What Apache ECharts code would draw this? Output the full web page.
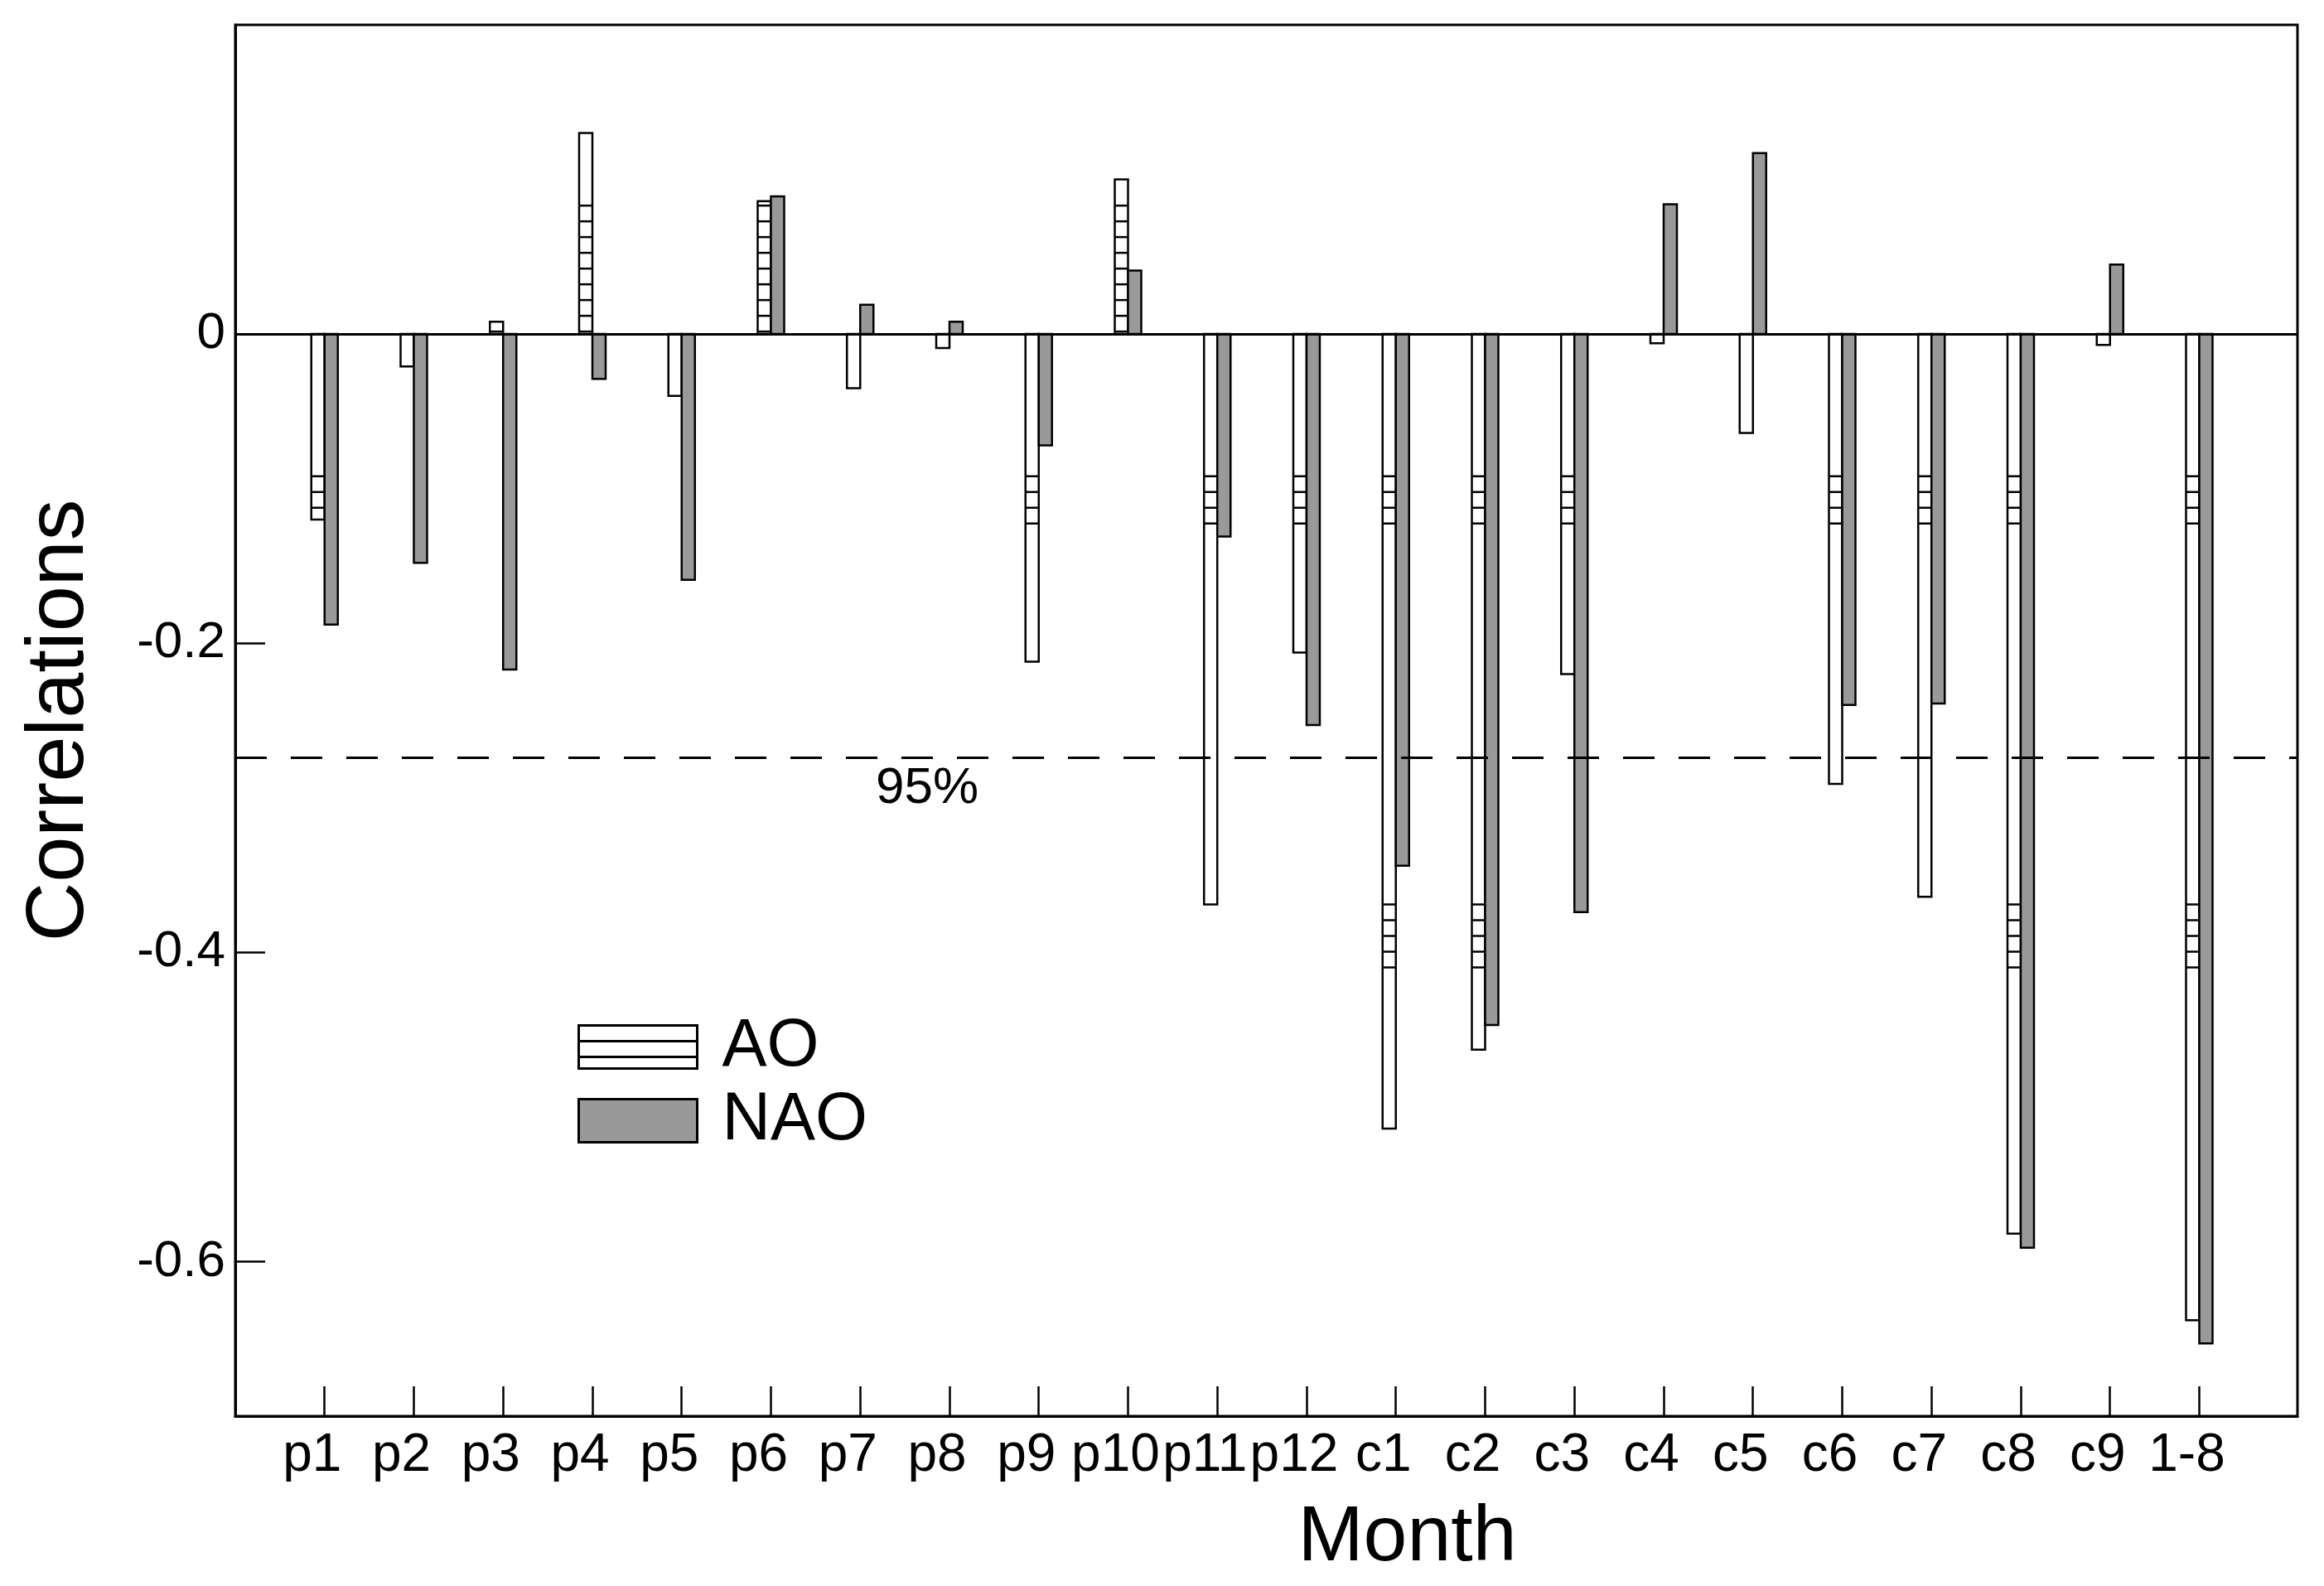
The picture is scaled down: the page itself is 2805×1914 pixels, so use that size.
<!DOCTYPE html>
<html>
<head>
<meta charset="utf-8">
<script src="https://cdn.jsdelivr.net/npm/echarts@6/dist/echarts.min.js"></script>
<style>
html,body{margin:0;padding:0;background:#fff;}
#chart{width:2805px;height:1914px;}
</style>
</head>
<body>
<div id="chart"></div>
<script>
// ---- data ----
var categories = ['p1','p2','p3','p4','p5','p6','p7','p8','p9','p10','p11','p12',
                  'c1','c2','c3','c4','c5','c6','c7','c8','c9','1-8'];
var aoValues  = [-0.120,-0.021, 0.008, 0.130,-0.040, 0.086,-0.035,-0.009,-0.212, 0.100,-0.369,-0.206,
                 -0.514,-0.463,-0.220,-0.006,-0.064,-0.291,-0.364,-0.582,-0.007,-0.638];
var naoValues = [-0.188,-0.148,-0.217,-0.029,-0.159, 0.089, 0.019, 0.008,-0.072, 0.041,-0.131,-0.253,
                 -0.344,-0.447,-0.374, 0.084, 0.117,-0.240,-0.239,-0.591, 0.045,-0.653];
var yTickValues = [-0.6, -0.4, -0.2, 0];
var sigLevel = -0.274;
var sigLabel = '95%';
var seriesNames = ['AO', 'NAO'];

// ---- style ----
var FONT = 'Liberation Sans';
var BAR_W = 16;
var HATCH_PX = 19;
// value bands where the AO hatch pattern is visible (start value, end value)
var hatchBands = [[0.0016, 0.086], [-0.092, -0.124], [-0.369, -0.411]];

var xPos = categories.map(function (c, i) { return i + 1; });
var aoData = aoValues.map(function (v, i) { return [xPos[i], v]; });
var naoData = naoValues.map(function (v, i) { return [xPos[i], v]; });

function renderAO(params, api) {
  var xv = api.value(0), v = api.value(1);
  var c0 = api.coord([xv, 0]);
  var c1 = api.coord([xv, v]);
  var x0 = c0[0] - BAR_W;
  var yTop = Math.min(c0[1], c1[1]);
  var h = Math.abs(c1[1] - c0[1]);
  var children = [{
    type: 'rect',
    shape: { x: x0, y: yTop, width: BAR_W, height: h },
    style: { fill: '#ffffff', stroke: '#000000', lineWidth: 2.5 }
  }];
  var unitPx = Math.abs(api.coord([xv, 1])[1] - c0[1]);
  var stepV = HATCH_PX / unitPx;
  hatchBands.forEach(function (b) {
    var dir = b[1] > b[0] ? 1 : -1;
    for (var L = b[0]; dir > 0 ? L <= b[1] + 1e-9 : L >= b[1] - 1e-9; L += dir * stepV) {
      var inside = v >= 0 ? (L > 0 && L < v - 0.002) : (L < 0 && L > v + 0.002);
      if (!inside) continue;
      var yy = api.coord([xv, L])[1];
      children.push({
        type: 'line',
        shape: { x1: x0, y1: yy, x2: x0 + BAR_W, y2: yy },
        style: { stroke: '#000000', lineWidth: 2.5 }
      });
    }
  });
  return { type: 'group', children: children };
}

function renderNAO(params, api) {
  var xv = api.value(0), v = api.value(1);
  var c0 = api.coord([xv, 0]);
  var c1 = api.coord([xv, v]);
  return {
    type: 'rect',
    shape: { x: c0[0], y: Math.min(c0[1], c1[1]), width: BAR_W, height: Math.abs(c1[1] - c0[1]) },
    style: { fill: '#999999', stroke: '#000000', lineWidth: 2.5 }
  };
}

var chart = echarts.init(document.getElementById('chart'), null, { renderer: 'canvas' });
var option = {
  animation: false,
  backgroundColor: '#ffffff',
  textStyle: { fontFamily: FONT, color: '#000' },
  grid: {
    left: 284, right: 32, top: 30, bottom: 205,
    show: true, borderColor: '#000', borderWidth: 3, backgroundColor: 'transparent'
  },
  legend: {
    orient: 'vertical',
    left: 692, top: 1218,
    itemWidth: 143, itemHeight: 52, itemGap: 8,
    selectedMode: false,
    textStyle: { fontFamily: FONT, fontSize: 81, color: '#000', lineHeight: 80, padding: [0, 0, 0, 25] },
    data: [
      { name: seriesNames[0], icon: 'path://M0,0H143V52H0Z M0,19H143 M0,38H143',
        itemStyle: { color: '#ffffff', borderColor: '#000', borderWidth: 3 } },
      { name: seriesNames[1], icon: 'rect',
        itemStyle: { color: '#999999', borderColor: '#000', borderWidth: 3 } }
    ]
  },
  xAxis: {
    type: 'value',
    min: 0, max: 23.1, interval: 1,
    name: 'Month',
    nameLocation: 'middle',
    nameGap: 100,
    nameTextStyle: { fontFamily: FONT, fontSize: 95, color: '#000', padding: [0, 0, 0, 340] },
    axisLine: { show: true, onZero: false, lineStyle: { color: '#000', width: 3 } },
    axisTick: { show: true, inside: true, length: 36, customValues: xPos, lineStyle: { color: '#000', width: 2.5 } },
    axisLabel: {
      show: true, margin: 16, fontFamily: FONT, fontSize: 64, color: '#000',
      customValues: xPos, padding: [0, 30, 0, 0],
      formatter: function (v) { return categories[Math.round(v) - 1] || ''; }
    },
    splitLine: { show: false }
  },
  yAxis: {
    type: 'value',
    min: -0.7, max: 0.2,
    name: 'Correlations',
    nameLocation: 'middle',
    nameGap: 162,
    nameTextStyle: { fontFamily: FONT, fontSize: 99, color: '#000' },
    axisLine: { show: true, lineStyle: { color: '#000', width: 3 } },
    axisTick: { show: true, inside: true, length: 36, customValues: yTickValues, lineStyle: { color: '#000', width: 2.5 } },
    axisLabel: {
      show: true, margin: 12, fontFamily: FONT, fontSize: 62, color: '#000',
      customValues: yTickValues,
      formatter: function (v) { return Math.abs(v) < 1e-9 ? '0' : v.toFixed(1); }
    },
    splitLine: { show: false }
  },
  series: [
    {
      name: seriesNames[0], type: 'custom', renderItem: renderAO, data: aoData,
      itemStyle: { color: '#ffffff', borderColor: '#000' },
      z: 3,
      markLine: {
        silent: true, symbol: 'none', animation: false, precision: 6,
        label: { show: false },
        data: [
          { yAxis: 0, lineStyle: { type: 'solid', color: '#000', width: 3 } },
          { yAxis: sigLevel, lineStyle: { type: [38, 29], color: '#000', width: 3 } }
        ]
      }
    },
    {
      name: seriesNames[1], type: 'custom', renderItem: renderNAO, data: naoData,
      itemStyle: { color: '#999999', borderColor: '#000' },
      z: 3,
      markPoint: {
        silent: true, animation: false,
        symbol: 'circle', symbolSize: 1,
        itemStyle: { color: 'rgba(0,0,0,0)' },
        label: { show: true, position: 'inside', offset: [0, 38], fontFamily: FONT, fontSize: 62, color: '#000',
                 formatter: function () { return sigLabel; } },
        data: [{ coord: [7.75, sigLevel] }]
      }
    }
  ]
};
chart.setOption(option);
</script>
</body>
</html>
